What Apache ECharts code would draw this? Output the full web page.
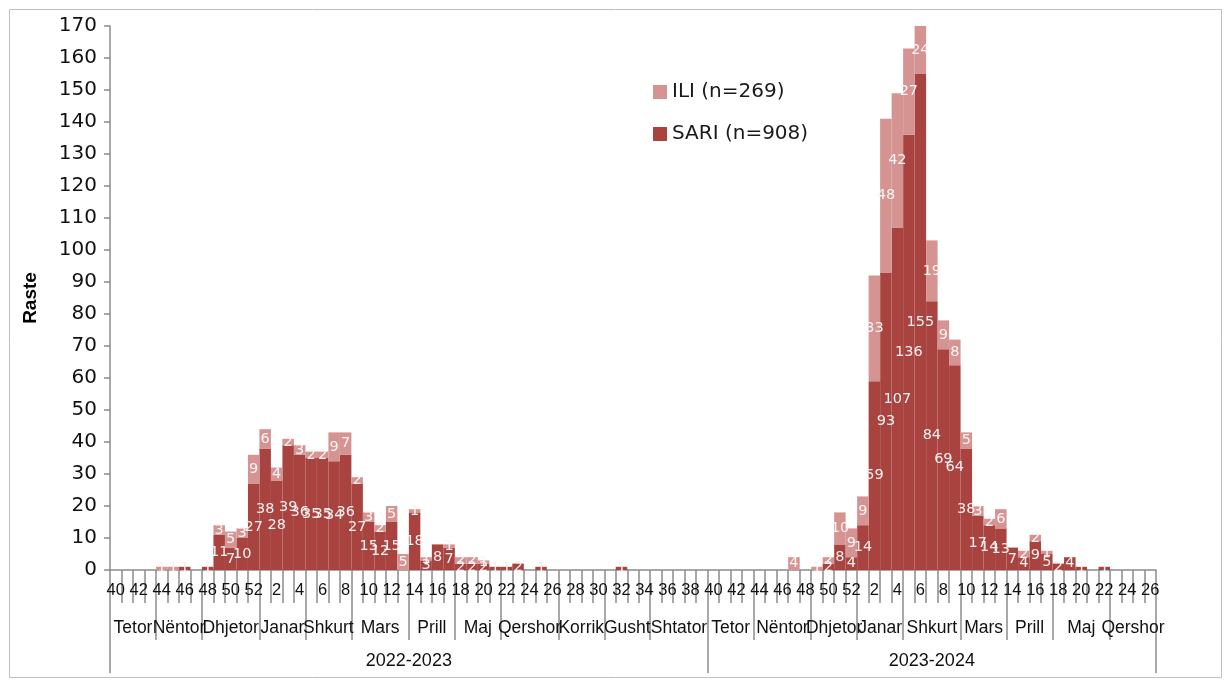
<!DOCTYPE html>
<html>
<head>
<meta charset="utf-8">
<script src="https://cdn.jsdelivr.net/npm/echarts@6/dist/echarts.min.js"></script>
<style>
html,body{margin:0;padding:0;background:#fff;}
#chart{width:1230px;height:685px;}
</style>
</head>
<body>
<div id="chart"></div>
<script>
// ---- Data ----
const weeks2223 = [40,41,42,43,44,45,46,47,48,49,50,51,52,1,2,3,4,5,6,7,8,9,10,11,12,13,14,15,16,17,18,19,20,21,22,23,24,25,26,27,28,29,30,31,32,33,34,35,36,37,38,39];
const weeks2324 = [40,41,42,43,44,45,46,47,48,49,50,51,52,1,2,3,4,5,6,7,8,9,10,11,12,13,14,15,16,17,18,19,20,21,22,23,24,25,26];

const sari2223 = [0,0,0,0,0,0,1,0,1, 11,7,10,27, 38,28,39,36,35,35,34,36,27,15,12,15,0, 18,3,8,7,2,2,2,1,1,2,0,1,0, 0,0,0,0,0,1,0,0,0,0,0,0,0];
const ili2223  = [0,0,0,0,1,1,0,0,0, 3,5,3,9, 6,4,2,3,2,2,9,7,2,3,2,5,5, 1,1,0,1,2,2,1,0,0,0,0,0,0, 0,0,0,0,0,0,0,0,0,0,0,0,0];
const sari2324 = [0,0,0,0,0,0,0,0,0, 0,2,8,4, 14,59,93,107,136,155,84,69,64,38,17,14,13, 7,4,9,5,2,4,1,0,1,0,0,0,0];
const ili2324  = [0,0,0,0,0,0,0,4,0, 1,2,10,9, 9,33,48,42,27,24,19,9,8,5,3,2,6, 0,2,2,1,0,0,0,0,0,0,0,0,0];

const monthNames  = ['Tetor','Nëntor','Dhjetor','Janar','Shkurt','Mars','Prill','Maj','Qershor','Korrik','Gusht','Shtator',
                     'Tetor','Nëntor','Dhjetor','Janar','Shkurt','Mars','Prill','Maj','Qershor'];
const monthStarts = [0,4,8,13,17,21,26,30,34,39,43,47, 52,56,61,65,69,74,78,82,87, 91];
const seasonNames = ['2022-2023','2023-2024'];
const seasonStarts = [0,52,91];

const seriesNames = ['SARI','ILI'];
const legendNames = ['ILI (n=269)','SARI (n=908)'];

// ---- Build ----
const categories = weeks2223.concat(weeks2324).map(String);
const sari = sari2223.concat(sari2324);
const ili = ili2223.concat(ili2324);
const monthCenters = monthNames.map((n,i)=> (monthStarts[i]+monthStarts[i+1])/2);
const seasonCenters = seasonNames.map((n,i)=> (seasonStarts[i]+seasonStarts[i+1])/2);
const N = categories.length;

const axisGray = '#8c8c8c';
const labelFmt = p => (p.value ? String(p.value) : '');

const chart = echarts.init(document.getElementById('chart'));
chart.setOption({
  backgroundColor: '#fff',
  animation: false,
  graphic: [{
    type: 'rect', shape: {x: 9.5, y: 9.5, width: 1212, height: 668},
    style: {fill: 'none', stroke: '#c0c0c0', lineWidth: 1}, silent: true, z: -1
  }],
  grid: {left: 110, right: 74, top: 26, bottom: 115},
  legend: {
    orient: 'vertical', left: 648, top: 77, itemWidth: 14, itemHeight: 14, itemGap: 22,
    icon: 'rect',
    data: ['ILI','SARI'],
    formatter: n => n === 'ILI' ? legendNames[0] : legendNames[1],
    textStyle: {fontFamily: 'DejaVu Sans', fontSize: 20, color: '#1a1a1a'}
  },
  xAxis: [
    {
      type: 'category', data: categories, position: 'bottom',
      axisLine: {lineStyle: {color: axisGray, width: 1.5}},
      axisTick: {show: true, interval: 0, length: 33, lineStyle: {color: axisGray, width: 1.5}},
      axisLabel: {interval: 1, margin: 12, fontFamily: 'Liberation Sans', fontSize: 16.5, color: '#111'},
      splitLine: {show: false}
    },
    {
      type: 'value', min: 0, max: N, position: 'bottom',
      axisLine: {show: false}, splitLine: {show: false},
      axisTick: {show: true, length: 70, customValues: monthStarts, lineStyle: {color: axisGray, width: 1.5}},
      axisLabel: {show: true, customValues: monthCenters, margin: 49,
        showMinLabel: true, showMaxLabel: true, hideOverlap: false,
        formatter: v => monthNames[monthCenters.indexOf(v)] || '',
        fontFamily: 'Liberation Sans', fontSize: 17.5, color: '#111'}
    },
    {
      type: 'value', min: 0, max: N, position: 'bottom',
      axisLine: {show: false}, splitLine: {show: false},
      axisTick: {show: true, length: 103, customValues: seasonStarts, lineStyle: {color: axisGray, width: 1.5}},
      axisLabel: {show: true, customValues: seasonCenters, margin: 82,
        showMinLabel: true, showMaxLabel: true,
        formatter: v => seasonNames[seasonCenters.indexOf(v)] || '',
        fontFamily: 'Liberation Sans', fontSize: 18, color: '#111'}
    }
  ],
  yAxis: {
    type: 'value', min: 0, max: 170, interval: 10,
    name: 'Raste', nameLocation: 'middle', nameGap: 70, nameRotate: 90,
    nameTextStyle: {fontFamily: 'Liberation Sans', fontWeight: 'bold', fontSize: 19, color: '#000'},
    axisLine: {show: true, lineStyle: {color: axisGray, width: 1.5}},
    axisTick: {show: true, length: 6, lineStyle: {color: axisGray, width: 1.5}},
    axisLabel: {margin: 13, fontFamily: 'DejaVu Sans', fontSize: 20, color: '#111'},
    splitLine: {show: false}
  },
  series: [
    {
      name: seriesNames[0], type: 'bar', stack: 'a', xAxisIndex: 0, data: sari,
      barCategoryGap: '0%', clip: true,
      itemStyle: {color: '#A8433F'},
      label: {show: true, position: 'inside', formatter: labelFmt, color: '#f4f0f0',
        fontFamily: 'DejaVu Sans', fontSize: 14.5}
    },
    {
      name: seriesNames[1], type: 'bar', stack: 'a', xAxisIndex: 0, data: ili,
      barCategoryGap: '0%', clip: true,
      itemStyle: {color: '#D59392'},
      label: {show: true, position: 'inside', formatter: labelFmt, color: '#f8f4f4',
        fontFamily: 'DejaVu Sans', fontSize: 14.5}
    }
  ]
});
</script>
</body>
</html>
